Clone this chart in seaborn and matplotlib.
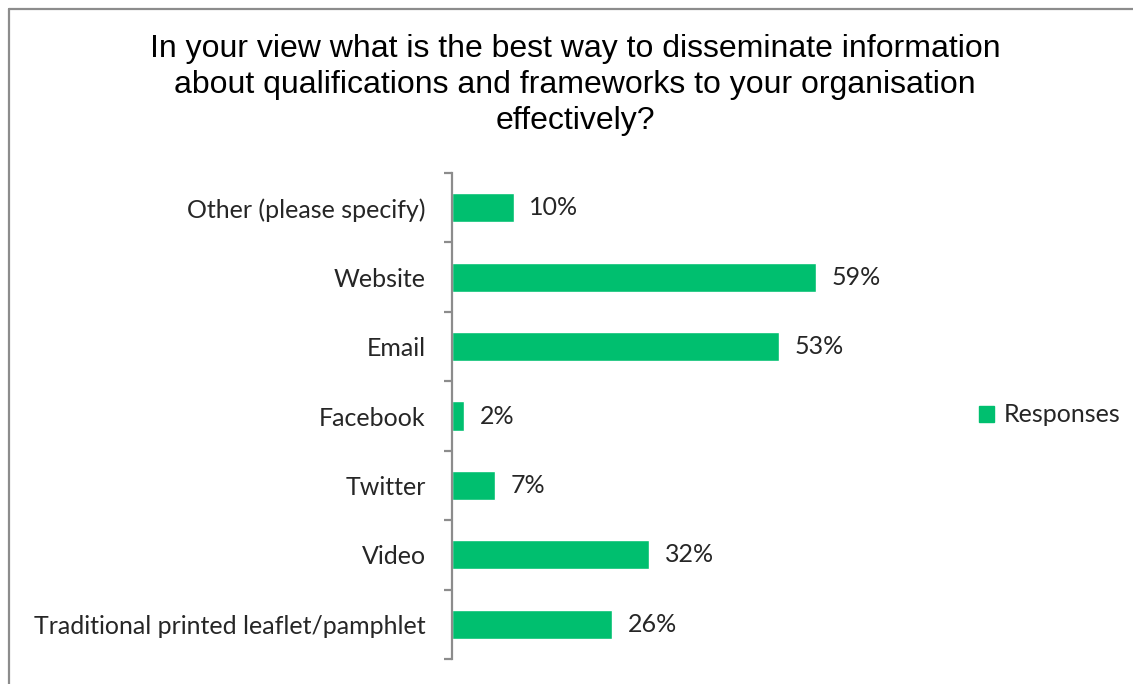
import matplotlib
matplotlib.use("Agg")
import matplotlib.pyplot as plt
import matplotlib.patches as mpatches
from matplotlib.lines import Line2D
import seaborn as sns
import pandas as pd

categories = [
    "Other (please specify)",
    "Website",
    "Email",
    "Facebook",
    "Twitter",
    "Video",
    "Traditional printed leaflet/pamphlet",
]
responses = [10, 59, 53, 2, 7, 32, 26]
title_text = ("In your view what is the best way to disseminate information\n"
              "about qualifications and frameworks to your organisation\n"
              "effectively?")
series_name = "Responses"

bar_color = "#00BF6F"
axis_gray = "#8C8C8C"
label_size = 18

sns.set_theme(style="white")
plt.rcParams["font.family"] = ["Lato", "DejaVu Sans"]

df = pd.DataFrame({"category": categories, "value": responses})

fig = plt.figure(figsize=(11.33, 6.84), dpi=100)
ax = fig.add_axes([452 / 1133, 1 - 659 / 684, (884 - 452) / 1133, (659 - 173) / 684])

sns.barplot(data=df, x="value", y="category", order=categories,
            color=bar_color, saturation=1, width=0.42, ax=ax, orient="h")

ax.set_xlim(0, 70)
ax.set_ylim(len(categories) - 0.5, -0.5)
ax.set_xlabel("")
ax.set_ylabel("")
ax.set_xticks([])

for s in ["top", "right", "bottom"]:
    ax.spines[s].set_visible(False)
ax.spines["left"].set_color(axis_gray)
ax.spines["left"].set_linewidth(1.6)

# category labels at bar centres, tick marks at category boundaries
ax.set_yticks(range(len(categories)))
ax.set_yticklabels(categories, fontsize=label_size, color="#262626")
ax.tick_params(axis="y", which="major", left=True, length=0, pad=19)
ax.set_yticks([i - 0.5 for i in range(len(categories) + 1)], minor=True)
ax.tick_params(axis="y", which="minor", left=True, length=6, width=1.6,
               color=axis_gray, direction="out")

for i, v in enumerate(responses):
    ax.annotate(f"{v}%", xy=(v, i), xytext=(11, 0), textcoords="offset points",
                va="center", ha="left", fontsize=label_size, color="#262626")

fig.text(575 / 1133, 1 - 34 / 684, title_text, ha="center", va="top",
         fontsize=23, family=["Liberation Sans", "DejaVu Sans"],
         color="#000000", linespacing=1.25)

handle = mpatches.Patch(color=bar_color, label=series_name)
fig.legend(handles=[handle], loc="center left",
           bbox_to_anchor=(979 / 1133, 1 - 415 / 684), frameon=False,
           fontsize=label_size, handlelength=0.6, handleheight=0.6,
           handletextpad=0.4, borderpad=0, borderaxespad=0)

# outer chart border (left and top edges)
fig.add_artist(Line2D([8.5 / 1133, 8.5 / 1133], [0, 1 - 8.5 / 684],
                      transform=fig.transFigure, color=axis_gray, lw=1.6))
fig.add_artist(Line2D([8.5 / 1133, 1], [1 - 8.5 / 684, 1 - 8.5 / 684],
                      transform=fig.transFigure, color=axis_gray, lw=1.6))

fig.savefig("out.png", dpi=100)
